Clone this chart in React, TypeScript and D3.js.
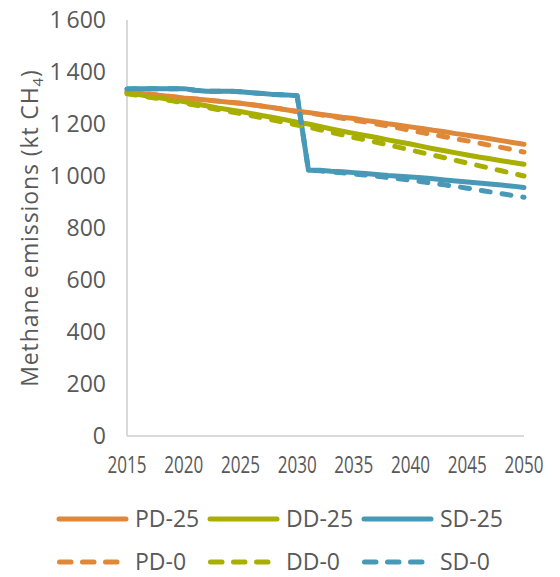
import React from 'react'
import * as d3 from 'd3'

// yearly series, kt CH4
const years = d3.range(2015, 2051)
const pd25 = [1325, 1318, 1314, 1310, 1305, 1300, 1296, 1292, 1288, 1284, 1280, 1274, 1268, 1262, 1255, 1248, 1244, 1238, 1232, 1226, 1221, 1214, 1208, 1201, 1195, 1189, 1183, 1176, 1170, 1163, 1157, 1150, 1143, 1136, 1129, 1122]
const dd25 = [1318, 1313, 1307, 1300, 1293, 1286, 1278, 1270, 1262, 1255, 1248, 1240, 1232, 1224, 1216, 1207, 1200, 1191, 1181, 1172, 1164, 1156, 1148, 1139, 1131, 1123, 1114, 1105, 1097, 1089, 1081, 1073, 1066, 1059, 1052, 1045]
const sd25 = [1335, 1336, 1336, 1336, 1336, 1336, 1330, 1326, 1326, 1326, 1324, 1320, 1317, 1313, 1312, 1309, 1022, 1022, 1018, 1016, 1013, 1010, 1006, 1002, 999, 996, 993, 989, 985, 981, 977, 973, 969, 965, 961, 956]
const pd0 = [1325, 1318, 1314, 1310, 1305, 1300, 1296, 1292, 1288, 1284, 1280, 1274, 1268, 1262, 1255, 1248, 1244, 1236, 1229, 1222, 1215, 1208, 1200, 1192, 1184, 1175, 1167, 1159, 1151, 1143, 1135, 1127, 1118, 1110, 1101, 1092]
const dd0 = [1316, 1310, 1303, 1296, 1289, 1281, 1273, 1264, 1256, 1248, 1240, 1232, 1223, 1214, 1205, 1196, 1188, 1178, 1168, 1158, 1148, 1139, 1130, 1120, 1110, 1100, 1090, 1080, 1070, 1060, 1050, 1040, 1030, 1020, 1010, 1000]
const sd0 = [1335, 1336, 1336, 1336, 1336, 1336, 1330, 1326, 1326, 1326, 1324, 1320, 1317, 1313, 1312, 1309, 1022, 1020, 1016, 1012, 1008, 1004, 999, 994, 989, 984, 978, 972, 966, 960, 953, 946, 939, 932, 925, 918]

const seriesNames = ['PD-25', 'DD-25', 'SD-25', 'PD-0', 'DD-0', 'SD-0']
const seriesValues = [pd25, dd25, sd25, pd0, dd0, sd0]
const xTicks = [2015, 2020, 2025, 2030, 2035, 2040, 2045, 2050]
const yTicks = [0, 200, 400, 600, 800, 1000, 1200, 1400, 1600]

const colors = ['#E0883A', '#A8AF00', '#4799B7']
const textColor = '#595959'
const font = '"Open Sans", Lato, sans-serif'

export default function App() {
  const x = d3.scaleLinear().domain([2015, 2050]).range([127, 524])
  const y = d3.scaleLinear().domain([0, 1600]).range([436, 20])
  const line = d3.line<number>()
    .x((d, i) => x(years[i]))
    .y(d => y(d))
  const fmt = (v: number) => v >= 1000 ? d3.format(',')(v).replace(',', '\u2009') : String(v)

  return (
    <svg width={560} height={577} style={{position: 'absolute', left: 0, top: 0}} fontFamily={font}>
      {/* axes */}
      <line x1={x(2015)} x2={x(2015)} y1={y(1600)} y2={y(0)} stroke="#D9D9D9" strokeWidth={2} />
      <line x1={x(2015)} x2={x(2050)} y1={y(0)} y2={y(0)} stroke="#D9D9D9" strokeWidth={2} />
      {yTicks.map(t => (
        <text key={t} x={106} y={y(t)} dy="0.36em" textAnchor="end" fontSize={23} fill={textColor}>{fmt(t)}</text>
      ))}
      {xTicks.map(t => (
        <text key={t} x={x(t)} y={473} textAnchor="middle" fontSize={23} fill={textColor}
          textLength={39} lengthAdjust="spacingAndGlyphs">{t}</text>
      ))}
      <text transform={`translate(38,228) rotate(-90)`} textAnchor="middle" fontSize={23} letterSpacing={0.9} fill={textColor}>
        Methane emissions (kt CH<tspan fontSize={15} dy={5}>4</tspan><tspan dy={-5}>)</tspan>
      </text>

      {/* lines */}
      {seriesValues.map((vals, i) => (
        <path key={seriesNames[i]} d={line(vals) || ''} fill="none" stroke={colors[i % 3]}
          strokeWidth={5} strokeLinejoin="round" strokeLinecap="round"
          strokeDasharray={i >= 3 ? '9,12' : undefined} />
      ))}

      {/* legend */}
      {seriesNames.map((name, i) => {
        const col = i % 3
        const row = Math.floor(i / 3)
        const lx = [57, 208, 362][col]
        const ly = row === 0 ? 519 : 562
        return (
          <g key={name}>
            {row === 0
              ? <line x1={lx + 2} x2={lx + 69} y1={ly} y2={ly} stroke={colors[col]} strokeWidth={5} strokeLinecap="round" />
              : <line x1={lx + 2.5} x2={lx + 2.5 + 57.5} y1={ly} y2={ly} stroke={colors[col]} strokeWidth={5}
                  strokeLinecap="round" strokeDasharray="11.5,11.5" />}
            <text x={lx + 78} y={ly} dy="0.36em" fontSize={23} fill={textColor}>{name}</text>
          </g>
        )
      })}
    </svg>
  )
}
